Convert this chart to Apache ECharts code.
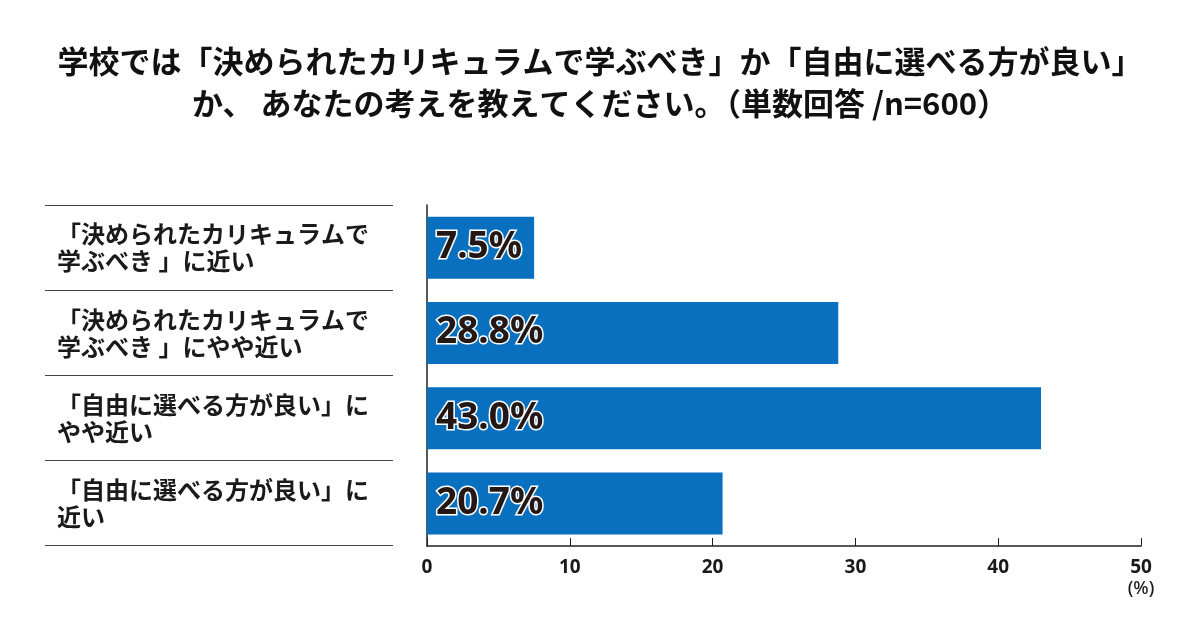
<!DOCTYPE html>
<html>
<head>
<meta charset="utf-8">
<script src="https://cdn.jsdelivr.net/npm/echarts@6/dist/echarts.min.js"></script>
<style>
  html, body { margin: 0; padding: 0; background: #fff; }
  #root { width: 1200px; height: 620px; }
</style>
</head>
<body>
<div id="root"></div>
<script>
  // data
  const categories = [
    '「決められたカリキュラムで\n学ぶべき 」に近い',
    '「決められたカリキュラムで\n学ぶべき 」にやや近い',
    '「自由に選べる方が良い」に\nやや近い',
    '「自由に選べる方が良い」に\n近い'
  ];
  const shares = [7.5, 28.8, 43.0, 20.7];
  const titleLines = [
    '学校では「決められたカリキュラムで学ぶべき」か「自由に選べる方が良い」',
    'か、 あなたの考えを教えてください。（単数回答 /n=600）'
  ];

  const jp = '"Noto Sans CJK JP", "Noto Sans", sans-serif';
  const latin = '"Noto Sans", sans-serif';
  const chart = echarts.init(document.getElementById('root'));

  chart.setOption({
    backgroundColor: '#fff',
    animation: false,
    title: {
      text: titleLines.join('\n'),
      left: 'center',
      top: 35,
      textStyle: {
        fontFamily: jp,
        fontSize: 31,
        fontWeight: 'bold',
        color: '#111',
        lineHeight: 42,
      },
    },
    grid: [
      { left: 427, right: 59, top: 205, bottom: 74 },
      // only used to draw the separator lines under the category labels
      { left: 45, width: 348, top: 205, bottom: 75 },
    ],
    xAxis: [
      {
        gridIndex: 0,
        type: 'value',
        min: 0,
        max: 50,
        interval: 10,
        axisLine: { show: true, lineStyle: { color: '#222', width: 1.5 } },
        axisTick: { show: true, inside: true, length: 8, lineStyle: { color: '#222' } },
        splitLine: { show: false },
        axisLabel: {
          margin: 11,
          color: '#1a1a1a',
          formatter: (v) => v === 50 ? '{a|50}\n{b|(%)}' : '{a|' + v + '}',
          rich: {
            a: { fontFamily: latin, fontSize: 19, fontWeight: 'bold', color: '#1a1a1a', lineHeight: 21, align: 'center' },
            b: { fontFamily: latin, fontSize: 18, fontWeight: 500, color: '#1a1a1a', lineHeight: 21, align: 'center' },
          },
        },
      },
      { gridIndex: 1, type: 'value', show: false },
    ],
    yAxis: [
      {
        gridIndex: 0,
        type: 'category',
        inverse: true,
        data: categories,
        axisLine: { show: true, lineStyle: { color: '#222', width: 1.5 } },
        axisTick: { show: false },
        axisLabel: {
          margin: 370,
          align: 'left',
          fontFamily: jp,
          fontSize: 24,
          fontWeight: 'bold',
          lineHeight: 27,
          color: '#1a1a1a',
        },
      },
      {
        gridIndex: 1,
        type: 'category',
        inverse: true,
        data: categories,
        axisLine: { show: false },
        axisTick: { show: false },
        axisLabel: { show: false },
        splitLine: { show: true, lineStyle: { color: '#444', width: 1.2 } },
      },
    ],
    series: [
      {
        type: 'bar',
        xAxisIndex: 0,
        yAxisIndex: 0,
        data: shares,
        barWidth: 62,
        itemStyle: { color: '#0870bf' },
        label: {
          show: true,
          position: 'insideLeft',
          distance: 9,
          formatter: (p) => p.value.toFixed(1) + '%',
          fontFamily: latin,
          fontSize: 37,
          fontWeight: 'bold',
          color: '#231815',
          textBorderColor: '#fff',
          textBorderWidth: 3,
        },
      },
    ],
  });
</script>
</body>
</html>
